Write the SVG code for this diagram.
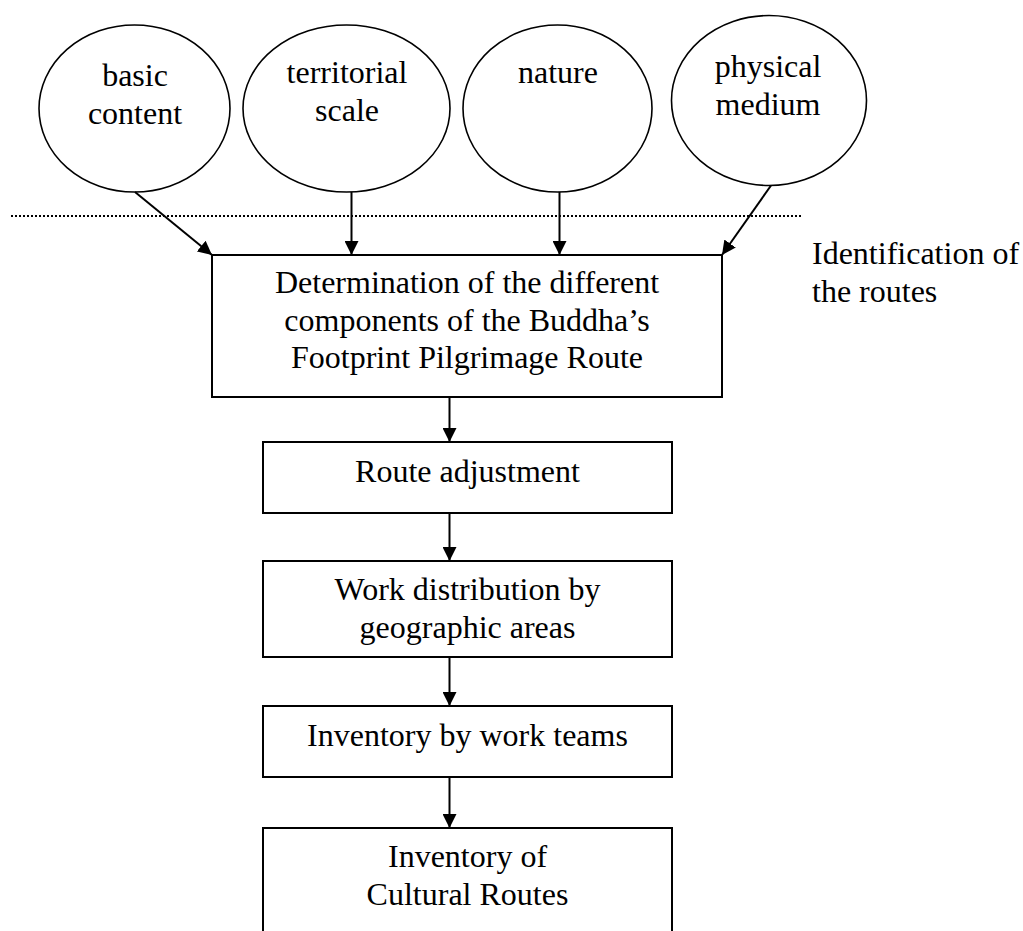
<svg xmlns="http://www.w3.org/2000/svg" width="1023" height="931" viewBox="0 0 1023 931">
  <style>
    .shape { fill: #fff; stroke: #000; stroke-width: 2; }
    .oval { fill: #fff; stroke: #000; stroke-width: 1.6; }
    .t { font-family: "Liberation Serif", "Times New Roman", serif; font-size: 32px; fill: #000; text-anchor: middle; }
    .tl { font-family: "Liberation Serif", "Times New Roman", serif; font-size: 32px; fill: #000; }
    .conn { stroke: #000; stroke-width: 2; fill: none; marker-end: url(#arr); }
  </style>
  <defs>
    <marker id="arr" viewBox="0 0 14 14" refX="14" refY="7" markerWidth="14" markerHeight="14" markerUnits="userSpaceOnUse" orient="auto">
      <path d="M0,0 L14,7 L0,14 Z" fill="#000"/>
    </marker>
  </defs>
  <rect width="1023" height="931" fill="#fff"/>

  <g id="divider">
    <line x1="11" y1="216" x2="802" y2="216" stroke="#000" stroke-width="2" stroke-dasharray="2 2"/>
    <text class="tl" x="812" y="264">Identification of</text>
    <text class="tl" x="812" y="302">the routes</text>
  </g>

  <g id="basic-content">
    <ellipse class="oval" cx="134.5" cy="108.5" rx="95.5" ry="83.5"/>
    <text class="t" x="135" y="86">basic</text>
    <text class="t" x="135" y="124">content</text>
  </g>
  <g id="territorial-scale">
    <ellipse class="oval" cx="346.5" cy="108.5" rx="103.5" ry="83.5"/>
    <text class="t" x="347" y="83">territorial</text>
    <text class="t" x="347" y="121">scale</text>
  </g>
  <g id="nature">
    <ellipse class="oval" cx="557.5" cy="108.5" rx="94.5" ry="83.5"/>
    <text class="t" x="558" y="83">nature</text>
  </g>
  <g id="physical-medium">
    <ellipse class="oval" cx="769" cy="100.5" rx="97.5" ry="85"/>
    <text class="t" x="768" y="77">physical</text>
    <text class="t" x="768" y="115">medium</text>
  </g>

  <g id="determination">
    <rect class="shape" x="212" y="255" width="510" height="142"/>
    <text class="t" x="467" y="293">Determination of the different</text>
    <text class="t" x="467" y="331">components of the Buddha’s</text>
    <text class="t" x="467" y="368">Footprint Pilgrimage Route</text>
  </g>
  <g id="route-adjustment">
    <rect class="shape" x="263" y="442" width="409" height="71"/>
    <text class="t" x="467.5" y="482">Route adjustment</text>
  </g>
  <g id="work-distribution">
    <rect class="shape" x="263" y="561" width="409" height="96"/>
    <text class="t" x="467.5" y="600">Work distribution by</text>
    <text class="t" x="467.5" y="638">geographic areas</text>
  </g>
  <g id="inventory-teams">
    <rect class="shape" x="263" y="706" width="409" height="71"/>
    <text class="t" x="467.5" y="746">Inventory by work teams</text>
  </g>
  <g id="inventory-routes">
    <rect class="shape" x="263" y="828" width="409" height="120"/>
    <text class="t" x="467.5" y="867">Inventory of</text>
    <text class="t" x="467.5" y="905">Cultural Routes</text>
  </g>

  <g id="connectors">
    <line class="conn" x1="135" y1="192" x2="212" y2="255"/>
    <line class="conn" x1="351.5" y1="192" x2="351.5" y2="255"/>
    <line class="conn" x1="559.5" y1="192" x2="559.5" y2="255"/>
    <line class="conn" x1="771" y1="185.5" x2="722" y2="255"/>
    <line class="conn" x1="449.5" y1="397" x2="449.5" y2="442"/>
    <line class="conn" x1="449.5" y1="513" x2="449.5" y2="561"/>
    <line class="conn" x1="449.5" y1="657" x2="449.5" y2="706"/>
    <line class="conn" x1="449.5" y1="777" x2="449.5" y2="828"/>
  </g>
</svg>
